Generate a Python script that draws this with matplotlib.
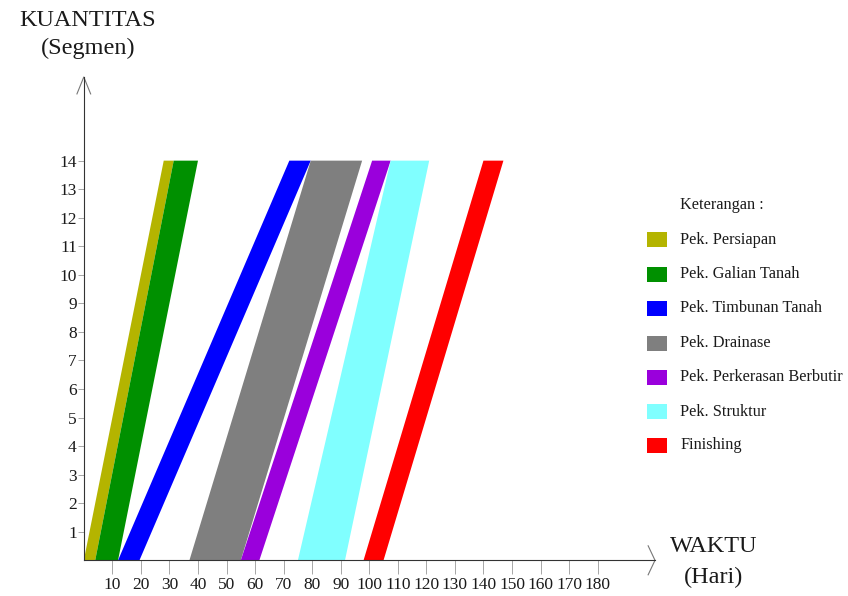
import matplotlib
matplotlib.use("Agg")
import matplotlib.pyplot as plt
from matplotlib.patches import Polygon, Rectangle

plt.rcParams['font.family'] = ['Liberation Serif', 'DejaVu Serif']

activities = ["Pek. Persiapan", "Pek. Galian Tanah", "Pek. Timbunan Tanah",
              "Pek. Drainase", "Pek. Perkerasan Berbutir", "Pek. Struktur", "Finishing"]
start_bottom = [0, 4, 12, 37, 55, 75, 98]
end_bottom = [4, 12, 19.5, 55, 61.5, 91.5, 105]
start_top = [28, 31.5, 72, 79.5, 101, 107.5, 140]
end_top = [31.5, 40, 79.5, 97.5, 107.5, 121, 147]
colors = ["#B4B400", "#009000", "#0000FF", "#7F7F7F", "#9A00DC", "#80FFFF", "#FF0000"]
segments_max = 14
x_ticks = list(range(10, 190, 10))
y_ticks = list(range(1, 15))

W, H = 848, 596
fig = plt.figure(figsize=(W / 100, H / 100), dpi=100)
x0, y0 = 83.8, 560.3
x1, y1 = 655, 77
ax = fig.add_axes([x0 / W, (H - y0) / H, (x1 - x0) / W, (y0 - y1) / H])
ax.set_xlim(0, 200.1)
ax.set_ylim(0, 16.93)

for sb, eb, st, et, c in zip(start_bottom, end_bottom, start_top, end_top, colors):
    poly = Polygon([(sb, 0), (eb, 0), (et, segments_max), (st, segments_max)],
                   closed=True, facecolor=c, edgecolor='none')
    ax.add_patch(poly)

for s in ['top', 'right']:
    ax.spines[s].set_visible(False)
for s in ['left', 'bottom']:
    ax.spines[s].set_linewidth(0.8)
    ax.spines[s].set_color('#333333')

ax.set_xticks(x_ticks)
ax.set_yticks(y_ticks)
ax.tick_params(axis='x', direction='out', length=10, width=0.6, colors='#999999',
               labelcolor='#1a1a1a', labelsize=12.5, pad=2)
ax.tick_params(axis='y', direction='out', length=4, width=0.6, colors='#999999',
               labelcolor='#1a1a1a', labelsize=12.5, pad=1)

# arrow heads (open V)
ax.plot([1.0 - 0.012, 1.0, 1.0 - 0.012], [0.03, 0.0, -0.03], transform=ax.transAxes,
        color='#777777', lw=0.8, clip_on=False)
ax.plot([-0.012, 0.0, 0.012], [1.0 - 0.035, 1.0, 1.0 - 0.035], transform=ax.transAxes,
        color='#777777', lw=0.8, clip_on=False)

def fx(px):
    return px / W

def fy(py):
    return 1 - py / H

fig.text(fx(88), fy(20), "KUANTITAS", ha='center', va='center', fontsize=17.5, color='#1a1a1a')
fig.text(fx(88), fy(48), "(Segmen)", ha='center', va='center', fontsize=17.5, color='#1a1a1a')
fig.text(fx(714), fy(547), "WAKTU", ha='center', va='center', fontsize=17.5, color='#1a1a1a')
fig.text(fx(714), fy(577), "(Hari)", ha='center', va='center', fontsize=17.5, color='#1a1a1a')

fig.text(fx(680), fy(205), "Keterangan :", ha='left', va='center', fontsize=11.7, color='#1a1a1a')
row_y = [240, 274.5, 308.5, 343, 377, 411.5, 445]
for name, c, ry in zip(activities, colors, row_y):
    fig.patches.append(Rectangle((fx(647), fy(ry + 7.5)), 20 / W, 15 / H,
                                 transform=fig.transFigure, facecolor=c, edgecolor='none'))
    fig.text(fx(680), fy(ry), name, ha='left', va='center', fontsize=11.7, color='#1a1a1a')

fig.savefig("out.png", dpi=100)
